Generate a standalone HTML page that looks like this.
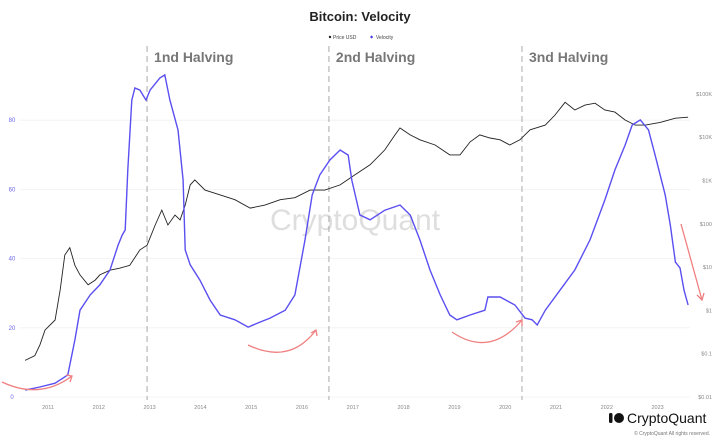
<!DOCTYPE html>
<html><head><meta charset="utf-8"><style>
body{margin:0;background:#fff;font-family:"Liberation Sans",sans-serif}
svg{display:block}
</style></head><body>
<svg id="c" width="720" height="440" xmlns="http://www.w3.org/2000/svg">
<text x="360" y="21" text-anchor="middle" font-size="13" font-weight="bold" fill="#222">Bitcoin: Velocity</text>
<g font-size="5" fill="#444">
<circle cx="330" cy="37" r="1.2" fill="#222"/>
<text x="333" y="39">Price USD</text>
<path d="M272,37 l1.6,-1.6 l1.6,1.6 l-1.6,1.6z" transform="translate(98,0)" fill="#4b3fe0"/>
<text x="376" y="39">Velocity</text>
</g>
<text x="355" y="230" text-anchor="middle" font-size="30" fill="#dedede">CryptoQuant</text>
<g id="grid"></g>
<g id="axes"></g>
<g id="marks"></g>
<g fill="none" stroke="#f08080" stroke-width="1.3">
<path d="M2,382 Q40,400 72,376"/><path d="M66,375 L72,376 L70,382"/>
<path d="M248,345 Q290,365 316,330"/><path d="M311,333 L316,330 L317,336"/>
<path d="M452,332 Q490,358 522,320"/><path d="M516,322 L522,320 L522,326"/>
<path d="M681,224 L702,300"/><path d="M697,295 L702,300 L704,293"/>
</g>
<g>
<circle cx="619" cy="418" r="5" fill="#111"/><rect x="609" y="413" width="3.5" height="10" rx="1.5" fill="#111"/>
<text x="627" y="423" font-size="14" fill="#111">CryptoQuant</text>
<text x="710" y="435" text-anchor="end" font-size="5" fill="#777">© CryptoQuant All rights reserved.</text>
</g>
</svg>
<script>
const velYears=[2010.55,2010.84,2011.14,2011.39,2011.53,2011.63,2011.83,2012.02,2012.22,2012.38,2012.46,2012.52,2012.57,2012.65,2012.71,2012.81,2012.93,2013.01,2013.20,2013.30,2013.40,2013.56,2013.66,2013.70,2013.80,2013.99,2014.19,2014.39,2014.68,2014.94,2015.13,2015.37,2015.67,2015.86,2016.06,2016.20,2016.35,2016.55,2016.75,2016.91,2016.98,2017.14,2017.34,2017.63,2017.93,2018.13,2018.32,2018.52,2018.72,2018.91,2019.05,2019.31,2019.60,2019.66,2019.90,2020.19,2020.39,2020.53,2020.63,2020.79,2021.08,2021.37,2021.67,2021.96,2022.16,2022.36,2022.50,2022.66,2022.82,2022.95,2023.15,2023.25,2023.35,2023.44,2023.52,2023.60];
const velValues=[2.0,2.9,4.0,6.4,16.5,25.1,29.5,32.4,36.7,43.9,46.8,48.3,65.6,85.8,89.3,88.7,85.8,88.7,92.2,93.1,85.8,77.2,62.7,42.5,38.2,33.8,28.0,23.7,22.3,20.2,21.4,22.8,25.1,29.5,45.4,58.4,64.2,68.5,71.4,69.9,62.7,52.6,51.2,54.0,55.5,52.6,45.4,36.7,29.5,23.7,22.3,23.7,25.1,28.9,28.9,26.6,22.8,22.3,20.8,25.1,30.9,36.7,45.4,56.9,65.6,72.8,78.6,80.1,77.2,69.9,58.4,49.7,39.0,37.3,30.9,26.6];
const priceYears=[2010.55,2010.74,2010.84,2010.94,2011.14,2011.24,2011.33,2011.43,2011.53,2011.63,2011.79,2011.93,2012.02,2012.22,2012.42,2012.61,2012.81,2012.95,2013.11,2013.24,2013.36,2013.50,2013.60,2013.70,2013.80,2013.89,2014.09,2014.39,2014.68,2014.98,2015.27,2015.57,2015.86,2016.16,2016.45,2016.75,2017.04,2017.34,2017.63,2017.83,2017.93,2018.13,2018.32,2018.62,2018.91,2019.11,2019.31,2019.50,2019.70,2019.90,2020.09,2020.29,2020.49,2020.79,2020.98,2021.18,2021.37,2021.57,2021.77,2021.96,2022.16,2022.36,2022.56,2022.76,2023.05,2023.35,2023.60];
const priceValues=[0.07,0.09,0.16,0.35,0.6,3,19,28,11,6.6,3.9,5,6.6,8.5,9.5,11,25,32,94,207,94,160,123,270,790,1030,600,465,360,230,270,360,400,600,600,790,1350,2300,5100,11300,16300,11300,8700,6600,3900,3900,7800,11300,9600,8700,6600,8700,14800,19000,32600,64000,42500,55000,61000,42500,38000,25000,19000,19000,22000,27500,29000];
const yearTicks=[2011,2012,2013,2014,2015,2016,2017,2018,2019,2020,2021,2022,2023];
const velTicks=[0,20,40,60,80];
const priceTicks=[0.01,0.1,1,10,100,1000,10000,100000];
const priceTickLabels=["$0.01","$0.1","$1","$10","$100","$1K","$10K","$100K"];
const halvingYears=[2012.95,2016.53,2020.33];
const halvingLabels=["1nd Halving","2nd Halving","3nd Halving"];

const NS="http://www.w3.org/2000/svg";
const xS=y=>48+(y-2011)*50.8;
const yV=v=>397-v*3.46;
const yP=p=>397-(Math.log10(p)+2)*43.3;
function mk(tag,attrs,parent,text){const e=document.createElementNS(NS,tag);for(const k in attrs)e.setAttribute(k,attrs[k]);if(text!==undefined)e.textContent=text;document.getElementById(parent).appendChild(e);return e;}

velTicks.forEach(v=>{
  const l=mk('line',{x1:20,x2:690,y1:yV(v),y2:yV(v),stroke:'#f0f0f0','stroke-width':0.8},'grid');
  
  
  const t=mk('text',{x:12,y:yV(v)+2,'font-size':6,fill:'#6b66e8','text-anchor':'middle'},'axes',String(v));
  
  
});
priceTicks.forEach((p,i)=>{
  const t=mk('text',{x:712,y:yP(p)+2,'font-size':5.5,fill:'#888','text-anchor':'end'},'axes',priceTickLabels[i]);
  
  
});
yearTicks.forEach(y=>{
  const t=mk('text',{x:xS(y),y:409,'font-size':5.5,fill:'#888','text-anchor':'middle'},'axes',String(y));
  
  
});
halvingYears.forEach((h,i)=>{
  const l=mk('line',{x1:xS(h),x2:xS(h),y1:46,y2:400,stroke:'#aaa','stroke-width':1,'stroke-dasharray':'6,4'},'axes');
  
  
  const t=mk('text',{x:xS(h)+7,y:62,'font-size':14,'font-weight':'bold',fill:'#777'},'axes',halvingLabels[i]);
  
  
});
let pd=priceYears.map((y,i)=>(i?'L':'M')+xS(y).toFixed(1)+','+yP(priceValues[i]).toFixed(1)).join(' ');
const pl=mk('path',{d:pd,fill:'none',stroke:'#222','stroke-width':0.9},'marks');


let vd=velYears.map((y,i)=>(i?'L':'M')+xS(y).toFixed(1)+','+yV(velValues[i]).toFixed(1)).join(' ');
const vl=mk('path',{d:vd,fill:'none',stroke:'#5a4ff0','stroke-width':1.4},'marks');


</script>
</body></html>
